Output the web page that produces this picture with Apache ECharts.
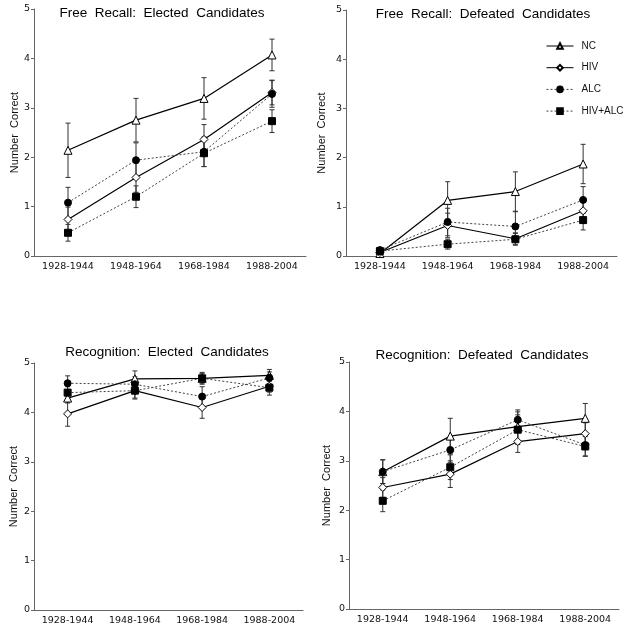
<!DOCTYPE html>
<html>
<head>
<meta charset="utf-8">
<script src="https://cdn.jsdelivr.net/npm/echarts@6/dist/echarts.min.js"></script>
<style>html,body{margin:0;padding:0;background:#fff;}#c{width:626px;height:630px;}</style>
</head>
<body>
<div id="c"></div>
<script>
const categories = ['1928-1944', '1948-1964', '1968-1984', '1988-2004'];
const groupNames = ['NC', 'HIV', 'ALC', 'HIV+ALC'];
const yTicks = [0, 1, 2, 3, 4, 5];
const panelTitles = ['Free  Recall:  Elected  Candidates', 'Free  Recall:  Defeated  Candidates',
  'Recognition:  Elected  Candidates', 'Recognition:  Defeated  Candidates'];
const yAxisTitle = 'Number  Correct';

// means per group (NC, HIV, ALC, HIV+ALC)
const recallElectedMeans = [
  [2.14, 2.75, 3.19, 4.07],
  [0.74, 1.59, 2.36, 3.31],
  [1.08, 1.94, 2.11, 3.28],
  [0.47, 1.20, 2.08, 2.73]
];
const recallElectedErr = [
  [0.55, 0.44, 0.42, 0.32],
  [0.25, 0.30, 0.30, 0.25],
  [0.31, 0.35, 0.30, 0.27],
  [0.17, 0.22, 0.27, 0.23]
];
const recallDefeatedMeans = [
  [0.05, 1.13, 1.31, 1.87],
  [0.07, 0.62, 0.35, 0.92],
  [0.12, 0.69, 0.60, 1.14],
  [0.10, 0.24, 0.34, 0.73]
];
const recallDefeatedErr = [
  [0.03, 0.38, 0.40, 0.40],
  [0.04, 0.25, 0.12, 0.25],
  [0.05, 0.28, 0.30, 0.27],
  [0.04, 0.10, 0.12, 0.20]
];
const recogElectedMeans = [
  [4.29, 4.68, 4.69, 4.75],
  [3.97, 4.44, 4.10, 4.53],
  [4.59, 4.57, 4.32, 4.70],
  [4.40, 4.44, 4.69, 4.50]
];
const recogElectedErr = [
  [0.10, 0.16, 0.10, 0.12],
  [0.25, 0.17, 0.22, 0.12],
  [0.15, 0.15, 0.20, 0.12],
  [0.12, 0.15, 0.12, 0.15]
];
const recogDefeatedMeans = [
  [2.78, 3.50, 3.69, 3.86],
  [2.46, 2.73, 3.39, 3.55],
  [2.78, 3.22, 3.83, 3.32],
  [2.19, 2.87, 3.63, 3.29]
];
const recogDefeatedErr = [
  [0.24, 0.36, 0.30, 0.30],
  [0.20, 0.27, 0.22, 0.22],
  [0.24, 0.25, 0.20, 0.22],
  [0.22, 0.25, 0.30, 0.20]
];

const panelMeans = [recallElectedMeans, recallDefeatedMeans, recogElectedMeans, recogDefeatedMeans];
const panelErrs = [recallElectedErr, recallDefeatedErr, recogElectedErr, recogDefeatedErr];

const FONT = 'Liberation Sans';
const TICKFONT = 'DejaVu Sans';
const grids = [
  {left: 34, top: 9, width: 272, height: 247},
  {left: 346, top: 10, width: 271, height: 246},
  {left: 34, top: 363, width: 269, height: 247},
  {left: 349, top: 362, width: 270, height: 247}
];
const nameGaps = [13, 19, 15, 17];
const titlePos = [[162, 13], [483, 14], [167, 352], [482, 355]];

const symbols = ['triangle', 'diamond', 'circle', 'rect'];
const symbolSizes = [8, 8, 7, 7];
const fills = ['#fff', '#fff', '#000', '#000'];
const solid = [true, true, false, false];

const axisColor = '#666';
const xAxes = grids.map((g, i) => ({
  type: 'category', gridIndex: i, data: categories, boundaryGap: true,
  axisLine: {lineStyle: {color: axisColor, width: 1}},
  axisTick: {alignWithLabel: true, length: 3, lineStyle: {color: axisColor}},
  axisLabel: {color: '#111', fontSize: 9.5, fontFamily: TICKFONT, margin: 6, interval: 0, hideOverlap: false}
}));
const yAxes = grids.map((g, i) => ({
  type: 'value', gridIndex: i, min: 0, max: 5, interval: 1,
  name: yAxisTitle, nameLocation: 'middle', nameGap: nameGaps[i],
  nameTextStyle: {color: '#111', fontSize: 11, fontFamily: FONT},
  axisLine: {show: true, lineStyle: {color: axisColor, width: 1}},
  axisTick: {show: true, length: 3, lineStyle: {color: axisColor}},
  splitLine: {show: false},
  axisLabel: {color: '#111', fontSize: 9.5, fontFamily: TICKFONT, margin: 4,
    formatter: v => yTicks.includes(v) ? String(v) : ''}
}));

const series = [];
panelMeans.forEach((means, p) => {
  means.forEach((vals, s) => {
    series.push({
      type: 'custom', name: groupNames[s] + ' err', xAxisIndex: p, yAxisIndex: p, z: 1,
      data: vals.map((v, k) => [k, v, panelErrs[p][s][k]]),
      renderItem: function (params, api) {
        const x = api.value(0), m = api.value(1), e = api.value(2);
        const t = api.coord([x, m + e]);
        const b = api.coord([x, m - e]);
        const w = 2.5;
        const st = {stroke: '#333', lineWidth: 1};
        return {type: 'group', children: [
          {type: 'line', shape: {x1: t[0], y1: t[1], x2: b[0], y2: b[1]}, style: st},
          {type: 'line', shape: {x1: t[0] - w, y1: t[1], x2: t[0] + w, y2: t[1]}, style: st},
          {type: 'line', shape: {x1: b[0] - w, y1: b[1], x2: b[0] + w, y2: b[1]}, style: st}
        ]};
      },
      silent: true
    });
  });
  means.forEach((vals, s) => {
    series.push({
      type: 'line', name: groupNames[s], xAxisIndex: p, yAxisIndex: p, z: 3,
      data: vals,
      symbol: symbols[s], symbolSize: symbolSizes[s],
      showAllSymbol: true,
      itemStyle: {color: fills[s], borderColor: '#000', borderWidth: 1},
      lineStyle: solid[s] ? {color: '#000', width: 1.2, type: 'solid'} : {color: '#444', width: 1, type: [2, 2]},
      animation: false
    });
  });
});

const graphics = panelTitles.map((t, i) => ({
  type: 'text', x: titlePos[i][0], y: titlePos[i][1],
  style: {text: t, fill: '#000', font: '13.5px "' + FONT + '"', align: 'center', verticalAlign: 'middle'}
}));

const chart = echarts.init(document.getElementById('c'), null, {renderer: 'canvas'});
chart.setOption({
  animation: false,
  backgroundColor: '#fff',
  grid: grids.map(g => Object.assign({containLabel: false}, g)),
  xAxis: xAxes,
  yAxis: yAxes,
  legend: {
    data: groupNames, orient: 'vertical', left: 541, top: 36,
    itemWidth: 27, itemHeight: 7, itemGap: 11.7,
    lineStyle: {width: 1},
    textStyle: {fontSize: 10, fontFamily: FONT, color: '#111', padding: [0, 0, 0, 3]},
    selectedMode: false
  },
  graphic: graphics,
  series: series
});
</script>
</body>
</html>
